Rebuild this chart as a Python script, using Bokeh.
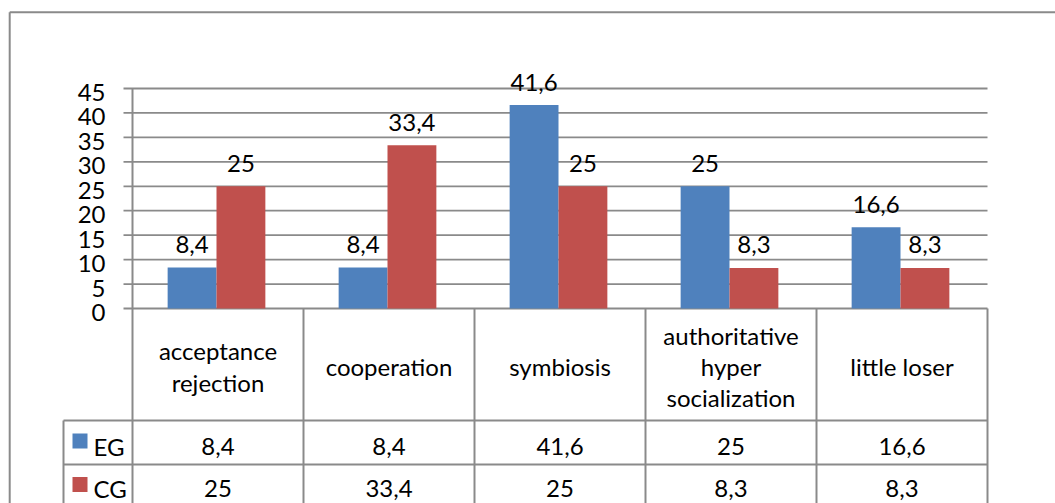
from bokeh.plotting import figure
from bokeh.models import Range1d
from bokeh.core.properties import value
from bokeh.embed import file_html
from bokeh.resources import INLINE

# ---- data ----
categories = ["acceptance\nrejection", "cooperation", "symbiosis",
              "authoritative\nhyper\nsocialization", "little loser"]
series_names = ["EG", "CG"]
eg_values = [8.4, 8.4, 41.6, 25, 16.6]
cg_values = [25, 33.4, 25, 8.3, 8.3]
y_ticks = [0, 5, 10, 15, 20, 25, 30, 35, 40, 45]
colors = ["#4F81BD", "#C0504D"]

# ---- layout (canvas pixels) ----
W, H = 1055, 503
PX_LEFT = 132          # left edge of first category
CAT_PX = 171           # width of one category
PX_ZERO = 308          # y of value 0
PX_PER_UNIT = 220 / 45

def dx(px):
    return (px - PX_LEFT) / CAT_PX

def dy(py):
    return (PX_ZERO - py) / PX_PER_UNIT

FONT = value("Lato")
FS = "24px"
GRAY = "#8a8a8a"

def fmt(v):
    return f"{v:g}".replace(".", ",")

p = figure(width=W, height=H, x_range=Range1d(dx(0), dx(W)), y_range=Range1d(dy(H), dy(0)),
           output_backend="svg", toolbar_location=None, min_border=0,
           x_axis_location=None, y_axis_location=None)
p.grid.visible = False
p.outline_line_color = None
p.background_fill_color = "white"
p.border_fill_color = "white"

n = len(categories)

# outer chart border (top and left visible)
p.segment(x0=[dx(9.2), dx(9.2)], y0=[dy(11.7), dy(11.7)], x1=[dx(W + 20), dx(9.2)], y1=[dy(11.7), dy(H + 20)],
          line_color=GRAY, line_width=2)

# gridlines (with tick extension)
p.segment(x0=[dx(123)] * len(y_ticks), y0=y_ticks, x1=[n] * len(y_ticks), y1=y_ticks,
          line_color=GRAY, line_width=1.8)

# y tick labels
p.text(x=[dx(105)] * len(y_ticks), y=y_ticks, text=[str(t) for t in y_ticks],
       text_align="right", text_baseline="middle", y_offset=4,
       text_font=FONT, text_font_size=FS, text_color="black")

# bars + data labels
bar_w = 2 / 7
shift = -1.5 / CAT_PX
for s, (vals, color) in enumerate(zip([eg_values, cg_values], colors)):
    xs = [i + 0.5 + shift + (s - 0.5) * bar_w for i in range(n)]
    p.vbar(x=xs, top=vals, bottom=0, width=bar_w, fill_color=color, line_color=None)
    p.text(x=xs, y=vals, text=[fmt(v) for v in vals], text_align="center",
           text_baseline="alphabetic", y_offset=-23,
           text_font=FONT, text_font_size=FS, text_color="black")

# ---- data table ----
row_tops = [dy(420), dy(464), dy(508)]
# vertical lines of category columns
p.segment(x0=[0], y0=[max(y_ticks)], x1=[0], y1=[dy(H + 20)], line_color=GRAY, line_width=2)
p.segment(x0=list(range(1, n + 1)), y0=[0] * n, x1=list(range(1, n + 1)), y1=[dy(H + 20)] * n,
          line_color=GRAY, line_width=2)
# legend column left edge
p.segment(x0=[dx(63)], y0=[row_tops[0]], x1=[dx(63)], y1=[dy(H + 20)], line_color=GRAY, line_width=2)
# row lines
p.segment(x0=[dx(63)] * 3, y0=row_tops, x1=[n] * 3, y1=row_tops, line_color=GRAY, line_width=2)

# header texts (categories)
p.text(x=[i + 0.5 for i in range(n)], y=[dy(364)] * n, text=categories,
       text_align="center", text_baseline="middle", y_offset=2, text_line_height=1.08,
       text_font=FONT, text_font_size=FS, text_color="black")

# rows of values
row_centers = [dy(446), dy(488)]
square_centers = [dy(440.5), dy(484)]
for s, (name, vals, color) in enumerate(zip(series_names, [eg_values, cg_values], colors)):
    yc = row_centers[s]
    p.scatter(x=[dx(79.5)], y=[square_centers[s]], marker="square", size=15,
              fill_color=color, line_color=None)
    p.text(x=[dx(93)], y=[yc], text=[name], text_align="left", text_baseline="middle",
           text_font=FONT, text_font_size=FS, text_color="black")
    p.text(x=[i + 0.5 for i in range(n)], y=[yc] * n, text=[fmt(v) for v in vals],
           text_align="center", text_baseline="middle",
           text_font=FONT, text_font_size=FS, text_color="black")

open("out.html", "w").write(file_html(p, INLINE))
